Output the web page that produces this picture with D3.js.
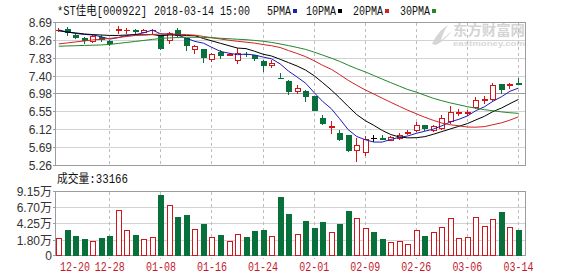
<!DOCTYPE html>
<html>
<head>
<meta charset="utf-8">
<script src="https://cdn.jsdelivr.net/npm/d3@7"></script>
<style>
  html, body { margin: 0; padding: 0; background: #fff; }
  svg { display: block; }
</style>
</head>
<body>
<svg id="chart" width="578" height="276"></svg>
<script>
// ---- daily bars, *ST佳电 (000922), 2017-12-20 .. 2018-03-14 ----
const dates = ["12-20","12-21","12-22","12-25","12-26","12-27","12-28","12-29","01-02","01-03",
  "01-04","01-05","01-08","01-09","01-10","01-11","01-12","01-15","01-16","01-17",
  "01-18","01-19","01-22","01-23","01-24","01-25","01-26","01-29","01-30","01-31",
  "02-01","02-02","02-05","02-06","02-07","02-08","02-09","02-12","02-13","02-14",
  "02-22","02-23","02-26","02-27","02-28","03-01","03-02","03-05","03-06","03-07",
  "03-08","03-09","03-12","03-13","03-14"];

const open = [8.51,8.53,8.40,8.31,8.24,8.35,8.25,8.52,8.50,8.50,
  8.47,8.50,8.38,8.26,8.51,8.31,8.05,8.05,7.81,7.98,
  7.92,7.78,7.94,7.91,7.77,7.67,7.36,7.28,7.04,7.04,
  6.93,6.41,6.19,6.05,6.00,5.62,5.58,5.92,5.91,5.88,
  5.92,6.05,6.10,6.22,6.10,6.16,6.32,6.52,6.53,6.66,
  6.84,6.85,7.22,7.19,7.23];
const close = [8.52,8.46,8.35,8.26,8.37,8.29,8.19,8.53,8.51,8.48,
  8.51,8.51,8.07,8.45,8.39,8.14,8.13,7.86,7.94,7.91,
  7.93,7.95,7.93,7.83,7.67,7.71,7.35,7.05,7.13,6.93,
  6.58,6.29,6.20,5.90,5.63,5.76,5.90,5.92,5.90,5.95,
  6.00,6.07,6.24,6.15,6.20,6.40,6.54,6.55,6.55,6.84,
  6.86,7.20,7.09,7.21,7.22];
const high = [8.55,8.58,8.43,8.35,8.40,8.39,8.27,8.61,8.56,8.53,
  8.53,8.53,8.40,8.47,8.55,8.32,8.14,8.06,7.97,8.03,
  7.95,8.09,7.98,7.92,7.78,7.79,7.48,7.32,7.18,7.08,
  6.93,6.48,6.32,6.12,6.00,5.92,5.96,5.99,5.98,5.97,
  6.03,6.11,6.30,6.22,6.24,6.48,6.69,6.62,6.60,6.90,
  6.92,7.23,7.22,7.25,7.36];
const low = [8.49,8.40,8.31,8.19,8.22,8.25,8.15,8.45,8.44,8.42,
  8.46,8.45,8.05,8.21,8.36,8.03,7.95,7.75,7.76,7.85,
  7.91,7.72,7.88,7.80,7.52,7.63,7.35,6.98,7.00,6.80,
  6.58,6.25,6.05,5.88,5.60,5.36,5.50,5.84,5.90,5.87,
  5.90,6.02,6.08,6.10,6.08,6.14,6.28,6.48,6.48,6.64,
  6.76,6.83,7.01,7.12,7.21];
// volume in 万手
const volume = [2.13,3.24,2.48,1.88,1.74,2.03,2.48,6.42,3.24,2.63,
  1.98,2.28,8.59,7.03,5.32,5.56,3.54,4.19,2.33,2.63,
  1.71,2.74,2.18,3.09,3.24,2.48,8.28,5.71,2.74,4.75,
  3.69,4.60,2.94,4.30,6.12,5.16,3.65,2.94,1.88,1.51,
  1.63,1.36,3.35,2.44,3.04,3.80,5.16,2.13,2.28,5.32,
  3.95,5.01,5.97,3.80,3.3166];
// volume colour follows the tape, not the candle body
const volumeUp = [1,0,0,0,1,0,0,1,1,0, 1,1,0,1,0,0,1,0,1,0, 1,1,0,0,0,1,0,0,1,0,
  0,0,1,0,0,1,1,0,0,1, 1,1,1,0,1,1,1,1,1,1, 1,1,0,1,0];

const ma5 = [8.51,8.463,8.427,8.403,8.392,8.346,8.292,8.328,8.378,8.40,
  8.444,8.508,8.416,8.404,8.386,8.312,8.236,8.194,8.092,7.996,
  7.954,7.918,7.932,7.91,7.862,7.818,7.698,7.522,7.382,7.234,
  7.008,6.796,6.626,6.38,6.12,5.956,5.878,5.822,5.822,5.886,
  5.934,5.968,6.032,6.082,6.132,6.212,6.306,6.368,6.448,6.576,
  6.668,6.80,6.908,7.04,7.116];
const ma10 = [8.49,8.46,8.44,8.415,8.40,8.39,8.38,8.38,8.39,8.396,
  8.395,8.40,8.372,8.391,8.393,8.378,8.372,8.305,8.248,8.191,
  8.133,8.077,8.063,8.001,7.929,7.886,7.808,7.727,7.646,7.548,
  7.413,7.247,7.074,6.881,6.677,6.482,6.337,6.224,6.101,6.003,
  5.945,5.923,5.927,5.952,6.009,6.073,6.137,6.20,6.265,6.354,
  6.44,6.553,6.638,6.744,6.846];
const ma20 = [8.176,8.20,8.224,8.248,8.272,8.288,8.308,8.331,8.355,8.379,
  8.391,8.403,8.415,8.415,8.408,8.398,8.386,8.355,8.324,8.294,
  8.264,8.239,8.218,8.196,8.161,8.132,8.09,8.016,7.947,7.870,
  7.773,7.662,7.569,7.441,7.303,7.184,7.073,6.976,6.874,6.776,
  6.679,6.585,6.501,6.417,6.343,6.278,6.237,6.212,6.183,6.179,
  6.193,6.238,6.283,6.348,6.428];
const ma30 = [8.121,8.128,8.133,8.140,8.145,8.152,8.164,8.188,8.212,8.236,
  8.260,8.284,8.308,8.320,8.331,8.336,8.336,8.331,8.324,8.312,
  8.300,8.288,8.277,8.260,8.241,8.212,8.176,8.135,8.092,8.045,
  7.980,7.908,7.836,7.758,7.666,7.582,7.506,7.419,7.332,7.247,
  7.164,7.082,7.021,6.945,6.872,6.814,6.761,6.717,6.671,6.635,
  6.599,6.574,6.546,6.526,6.511];

const priceTicks = [8.69,8.26,7.83,7.40,6.98,6.55,6.12,5.69,5.26];
const volumeTicks = [9.15,6.70,4.25,1.80,0];
const volumeTickLabels = ["9.15万","6.70万","4.25万","1.80万","0"];
const dateTicks = ["12-20","12-28","01-08","01-16","01-24","02-01","02-09","02-26","03-06","03-14"];
const maNames = ["5PMA","10PMA","20PMA","30PMA"];

// ---- styling ----
const RED = "#d0161b", GREEN = "#08703a", FLAT = "#000";
const MA_COLORS = ["#1d1db4", "#000000", "#d42222", "#24862a"];
const MONO = "'Liberation Mono', 'DejaVu Sans Mono', 'Noto Sans CJK SC', monospace";
const SANS = "'Liberation Sans', Arial, 'Noto Sans CJK SC', sans-serif";
const CJK = "'Noto Sans CJK SC', sans-serif";

const svg = d3.select("#chart");
const L = 55.5, R = 525.5;           // panel edges
const PT = 22.5, PB = 165.5;         // price panel
const VT = 191.5, VB = 255.5;        // volume panel

const x = d3.scaleBand().domain(dates).range([54, 54 + 8.513 * dates.length]);
const cx = d => x(d) + x.bandwidth() / 2;
const yP = d3.scaleLinear().domain([5.26, 8.69]).range([PB, PT]);
const yV = d3.scaleLinear().domain([0, 1.80, 9.15]).range([VB, 240, VT]);
const snap = v => Math.floor(v) + 0.5;

// ---- text helper: fixed-pitch text squeezed to a given width ----
function mono(g, x0, y0, str, color, anchor, width) {
  const t = g.append("text").attr("x", x0).attr("y", y0)
    .attr("font-family", MONO).attr("font-size", 12).attr("fill", color)
    .attr("textLength", width || str.length * 6).attr("lengthAdjust", "spacingAndGlyphs")
    .text(str);
  if (anchor) t.attr("text-anchor", anchor);
  return t;
}

// ---- watermark ----
const wm = svg.append("g");
wm.append("path")
  .attr("d", "M432,44 C436,36 440,30 448,25 C444,31 442,36 441,41 C446,36 449,33 452,31 C447,37 442,42 436,45 Z")
  .attr("fill", "#d6d6d6");
wm.append("text").attr("x", 453).attr("y", 35)
  .attr("font-family", CJK).attr("font-weight", 700).attr("font-size", 13.5)
  .attr("fill", "#d4d4d4").attr("textLength", 72).attr("lengthAdjust", "spacingAndGlyphs")
  .text("东方财富网");
wm.append("text").attr("x", 453).attr("y", 45.5)
  .attr("font-family", SANS).attr("font-weight", 700).attr("font-size", 8)
  .attr("fill", "#d8d8d8").attr("textLength", 72).attr("lengthAdjust", "spacingAndGlyphs")
  .text("eastmoney.com");

// ---- grid ----
const grid = svg.append("g").attr("shape-rendering", "crispEdges");
priceTicks.forEach((v, i) => {
  if (i === 0 || i === priceTicks.length - 1) return;
  grid.append("line").attr("x1", L).attr("x2", R)
    .attr("y1", snap(yP(v))).attr("y2", snap(yP(v)))
    .attr("stroke", i === 4 ? "#9a9a9a" : "#d2d2d2");
});
volumeTicks.forEach((v, i) => {
  if (i === 0 || i === volumeTicks.length - 1) return;
  grid.append("line").attr("x1", L).attr("x2", R)
    .attr("y1", snap(yV(v))).attr("y2", snap(yV(v)))
    .attr("stroke", "#d2d2d2");
});
dateTicks.forEach((d, i) => {
  if (i === 0) return;
  const gx = Math.round(cx(d)) + 0.5;
  [[PT, PB], [VT, VB + 3]].forEach(([a, b]) => {
    grid.append("line").attr("x1", gx).attr("x2", gx).attr("y1", a).attr("y2", b)
      .attr("stroke", "#bdbdbd").attr("stroke-dasharray", "3,3");
  });
});

// ---- panel frames and axis ticks ----
const frame = svg.append("g").attr("shape-rendering", "crispEdges");
frame.append("rect").attr("x", L).attr("y", PT).attr("width", R - L).attr("height", PB - PT)
  .attr("fill", "none").attr("stroke", "#9c9c9c");
frame.append("rect").attr("x", L).attr("y", VT).attr("width", R - L).attr("height", VB - VT)
  .attr("fill", "none").attr("stroke", "#9c9c9c");

const axisText = svg.append("g");
priceTicks.forEach(v => {
  const yy = snap(yP(v));
  frame.append("line").attr("x1", L - 3).attr("x2", L).attr("y1", yy).attr("y2", yy).attr("stroke", "#9c9c9c");
  axisText.append("text").attr("x", 52).attr("y", yy + 4.5).attr("text-anchor", "end")
    .attr("font-family", SANS).attr("font-size", 12).attr("fill", "#333").text(v.toFixed(2));
});
volumeTicks.forEach((v, i) => {
  const yy = snap(yV(v));
  frame.append("line").attr("x1", L - 3).attr("x2", L).attr("y1", yy).attr("y2", yy).attr("stroke", "#9c9c9c");
  axisText.append("text").attr("x", 52).attr("y", yy + 4.5).attr("text-anchor", "end")
    .attr("font-family", SANS).attr("font-size", 12).attr("fill", "#333").text(volumeTickLabels[i]);
});
dateTicks.forEach((d, i) => {
  if (i === 0) mono(axisText, L + 4.5, 271, d, "#c4182a");
  else mono(axisText, cx(d) + 0.5, 271, d, "#c4182a", "middle");
});

// ---- header ----
const head = svg.append("g");
mono(head, 57, 15, "*ST佳电[000922]", "#111", null, 90);
mono(head, 154, 15, "2018-03-14 15:00", "#111");
const legendX = [267, 306, 353, 400];
maNames.forEach((n, i) => {
  mono(head, legendX[i], 15, n, "#111");
  head.append("rect").attr("x", legendX[i] + n.length * 6 + 2).attr("y", 9)
    .attr("width", 4).attr("height", 4).attr("fill", MA_COLORS[i]);
});
mono(head, 57, 183, "成交量:" + Math.round(volume[volume.length - 1] * 10000), "#111", null, 71);

// ---- volume bars ----
const vol = svg.append("g").attr("shape-rendering", "crispEdges");
dates.forEach((d, i) => {
  const c = Math.round(cx(d));
  const top = Math.round(yV(volume[i]));
  if (volumeUp[i]) {
    vol.append("rect").attr("x", c - 1.5).attr("y", top + 0.5)
      .attr("width", 5).attr("height", Math.max(VB - top - 0.5, 0))
      .attr("fill", "#fff").attr("stroke", RED);
  } else {
    vol.append("rect").attr("x", c - 2).attr("y", top)
      .attr("width", 6).attr("height", Math.max(VB - top, 1)).attr("fill", GREEN);
  }
});

// ---- candles ----
const candles = svg.append("g").attr("shape-rendering", "crispEdges");
dates.forEach((d, i) => {
  const c = Math.round(cx(d));
  const o = open[i], cl = close[i];
  const col = cl > o ? RED : (cl < o ? GREEN : FLAT);
  const yh = yP(high[i]), yl = yP(low[i]);
  const top = Math.round(yP(Math.max(o, cl)));
  const bot = Math.round(yP(Math.min(o, cl)));
  if (bot - top < 1) {
    // cross: open and close on the same pixel row
    candles.append("line").attr("x1", c + 0.5).attr("x2", c + 0.5)
      .attr("y1", Math.round(yh)).attr("y2", Math.round(yl) + 1).attr("stroke", col);
    candles.append("line").attr("x1", c - 2).attr("x2", c + 4)
      .attr("y1", top + 0.5).attr("y2", top + 0.5).attr("stroke", col);
  } else if (cl > o) {
    candles.append("line").attr("x1", c + 0.5).attr("x2", c + 0.5)
      .attr("y1", Math.round(yh)).attr("y2", top).attr("stroke", col);
    candles.append("line").attr("x1", c + 0.5).attr("x2", c + 0.5)
      .attr("y1", bot).attr("y2", Math.round(yl) + 1).attr("stroke", col);
    candles.append("rect").attr("x", c - 1.5).attr("y", top + 0.5)
      .attr("width", 5).attr("height", bot - top).attr("fill", "#fff").attr("stroke", col);
  } else {
    candles.append("line").attr("x1", c + 0.5).attr("x2", c + 0.5)
      .attr("y1", Math.round(yh)).attr("y2", Math.round(yl) + 1).attr("stroke", col);
    candles.append("rect").attr("x", c - 2).attr("y", top)
      .attr("width", 6).attr("height", bot - top + 1).attr("fill", col);
  }
});

// ---- moving averages ----
const line = d3.line().x((d, i) => cx(dates[i]) + 0.5).y(d => yP(d));
[ma5, ma10, ma20, ma30].forEach((s, k) => {
  svg.append("path").attr("d", line(s)).attr("fill", "none")
    .attr("stroke", MA_COLORS[k]).attr("stroke-width", 1);
});
</script>
</body>
</html>
